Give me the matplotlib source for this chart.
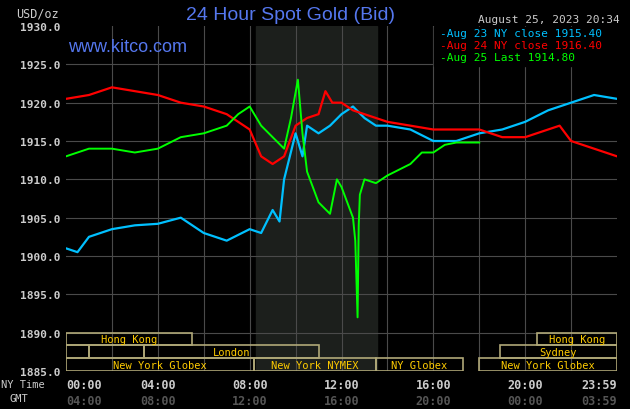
import matplotlib
matplotlib.use("Agg")
import matplotlib.pyplot as plt
from matplotlib.patches import Rectangle

blue_h = [0,0.5,1,1.5,2,3,4,5,6,7,8,8.5,9,9.3,9.5,10,10.3,10.5,11,11.5,12,12.5,13,13.5,14,15,16,17,18,19,20,21,22,23,24]
blue_v = [1901,1900.5,1902.5,1903,1903.5,1904,1904.2,1905,1903,1902,1903.5,1903,1906,1904.5,1910,1916,1913,1917,1916,1917,1918.5,1919.5,1918,1917,1917,1916.5,1915,1915,1916,1916.5,1917.5,1919,1920,1921,1920.5]
red_h = [0,1,2,3,4,5,6,7,8,8.5,9,9.5,10,10.5,11,11.3,11.6,12,12.5,13,13.5,14,15,16,17,18,19,20,21,21.5,22,23,24]
red_v = [1920.5,1921,1922,1921.5,1921,1920,1919.5,1918.5,1916.5,1913,1912,1913,1917,1918,1918.5,1921.5,1920,1920,1919,1918.5,1918,1917.5,1917,1916.5,1916.5,1916.5,1915.5,1915.5,1916.5,1917,1915,1914,1913]
green_h = [0,1,2,3,4,5,6,7,7.5,8,8.5,9,9.5,9.8,10.1,10.3,10.5,11,11.5,11.8,12,12.5,12.6,12.7,12.75,12.8,13,13.5,14,15,15.5,16,16.5,17,18]
green_v = [1913,1914,1914,1913.5,1914,1915.5,1916,1917,1918.5,1919.5,1917,1915.5,1914,1918,1923,1916,1911,1907,1905.5,1910,1909,1905,1902,1892,1904,1908,1910,1909.5,1910.5,1912,1913.5,1913.5,1914.5,1914.8,1914.8]

yticks = [1885,1890,1895,1900,1905,1910,1915,1920,1925,1930]
ny_labels = ["00:00","04:00","08:00","12:00","16:00","20:00","23:59"]
gmt_labels = ["04:00","08:00","12:00","16:00","20:00","00:00","03:59"]
label_hours = [0,4,8,12,16,20,24]

# sessions: (row, start, end, label)
sessions = [(0,0,5.5,"Hong Kong"),(0,20.5,24,"Hong Kong"),
            (1,0,1,""),(1,1,3.4,""),(1,3.4,11,"London"),(1,18.9,24,"Sydney"),
            (2,0,8.2,"New York Globex"),(2,8.2,13.5,"New York NYMEX"),(2,13.5,17.3,"NY Globex"),(2,18,24,"New York Globex")]

mono = "DejaVu Sans Mono"
fig = plt.figure(figsize=(6.3,4.1), dpi=100, facecolor="black")
ax = fig.add_axes([66/630, 38/410, 551/630, 345/410], facecolor="black")
ax.set_xlim(0,24); ax.set_ylim(1885,1930)
ax.axvspan(8.28,13.55,color="#1c1f1c",zorder=0)
for h in range(2,24,2):
    ax.axvline(h,color="#4a4a4a",lw=0.8,zorder=1)
for v in yticks[1:-1]:
    ax.axhline(v,color="#4a4a4a",lw=0.8,zorder=1)
ax.plot(blue_h,blue_v,color="#00c0ff",lw=1.6,zorder=3)
ax.plot(red_h,red_v,color="#ff0000",lw=1.6,zorder=3)
ax.plot(green_h,green_v,color="#00ff00",lw=1.4,zorder=4)
rowh = 5/3
for row,s,e,lab in sessions:
    y0 = 1890 - (row+1)*rowh
    ax.add_patch(Rectangle((s,y0),e-s,rowh,fill=False,ec="#b0a878",lw=1.2,zorder=5))
    if lab:
        ax.text((s+e)/2,y0+rowh/2,lab,color="#ffcc00",ha="center",va="center",fontsize=7.5,family=mono,zorder=6)
for sp in ax.spines.values():
    sp.set_visible(False)
ax.set_yticks(yticks)
ax.set_yticklabels([f"{v:.1f}" for v in yticks],family=mono,fontsize=8,color="#cccccc",fontweight="bold")
ax.set_xticks([])
ax.tick_params(axis="y",length=0,pad=4)
for h,a,b in zip(label_hours,ny_labels,gmt_labels):
    ha = "right" if h==24 else ("left" if h==0 else "center")
    ax.text(h,1883.3,a,color="#cccccc",ha="center" if 0<h<24 else ha,va="center",fontsize=8.5,family=mono,fontweight="bold")
    ax.text(h,1881.2,b,color="#555555",ha="center" if 0<h<24 else ha,va="center",fontsize=8.5,family=mono,fontweight="bold")
fig.text(1/630,1-385/410,"NY Time",color="#cccccc",fontsize=7.5,family=mono,va="center")
fig.text(9/630,1-399/410,"GMT",color="#cccccc",fontsize=7.5,family=mono,va="center")
fig.text(16/630,1-14/410,"USD/oz",color="#cccccc",fontsize=8.5,family=mono,va="center")
fig.text(290/630,1-16/410,"24 Hour Spot Gold (Bid)",color="#5577ee",fontsize=14,ha="center",va="center",family="Liberation Sans")
fig.text(620/630,1-20/410,"August 25, 2023 20:34",color="#cccccc",fontsize=8,ha="right",va="center",family=mono)
fig.text(68/630,1-48/410,"www.kitco.com",color="#5577ee",fontsize=13,va="center",family="Liberation Sans")
leg = [("Aug 23 NY close 1915.40","#00c0ff"),("Aug 24 NY close 1916.40","#ff0000"),("Aug 25 Last 1914.80","#00ff00")]
ax.add_patch(Rectangle((434/630,1-67/410),183/630,39/410,transform=fig.transFigure,color="black",zorder=7))
for i,(t,c) in enumerate(leg):
    fig.text(440/630,1-(34+12*i)/410,"-"+t,color=c,fontsize=8,family=mono,va="center")
fig.savefig("out.png",dpi=100,facecolor="black")
